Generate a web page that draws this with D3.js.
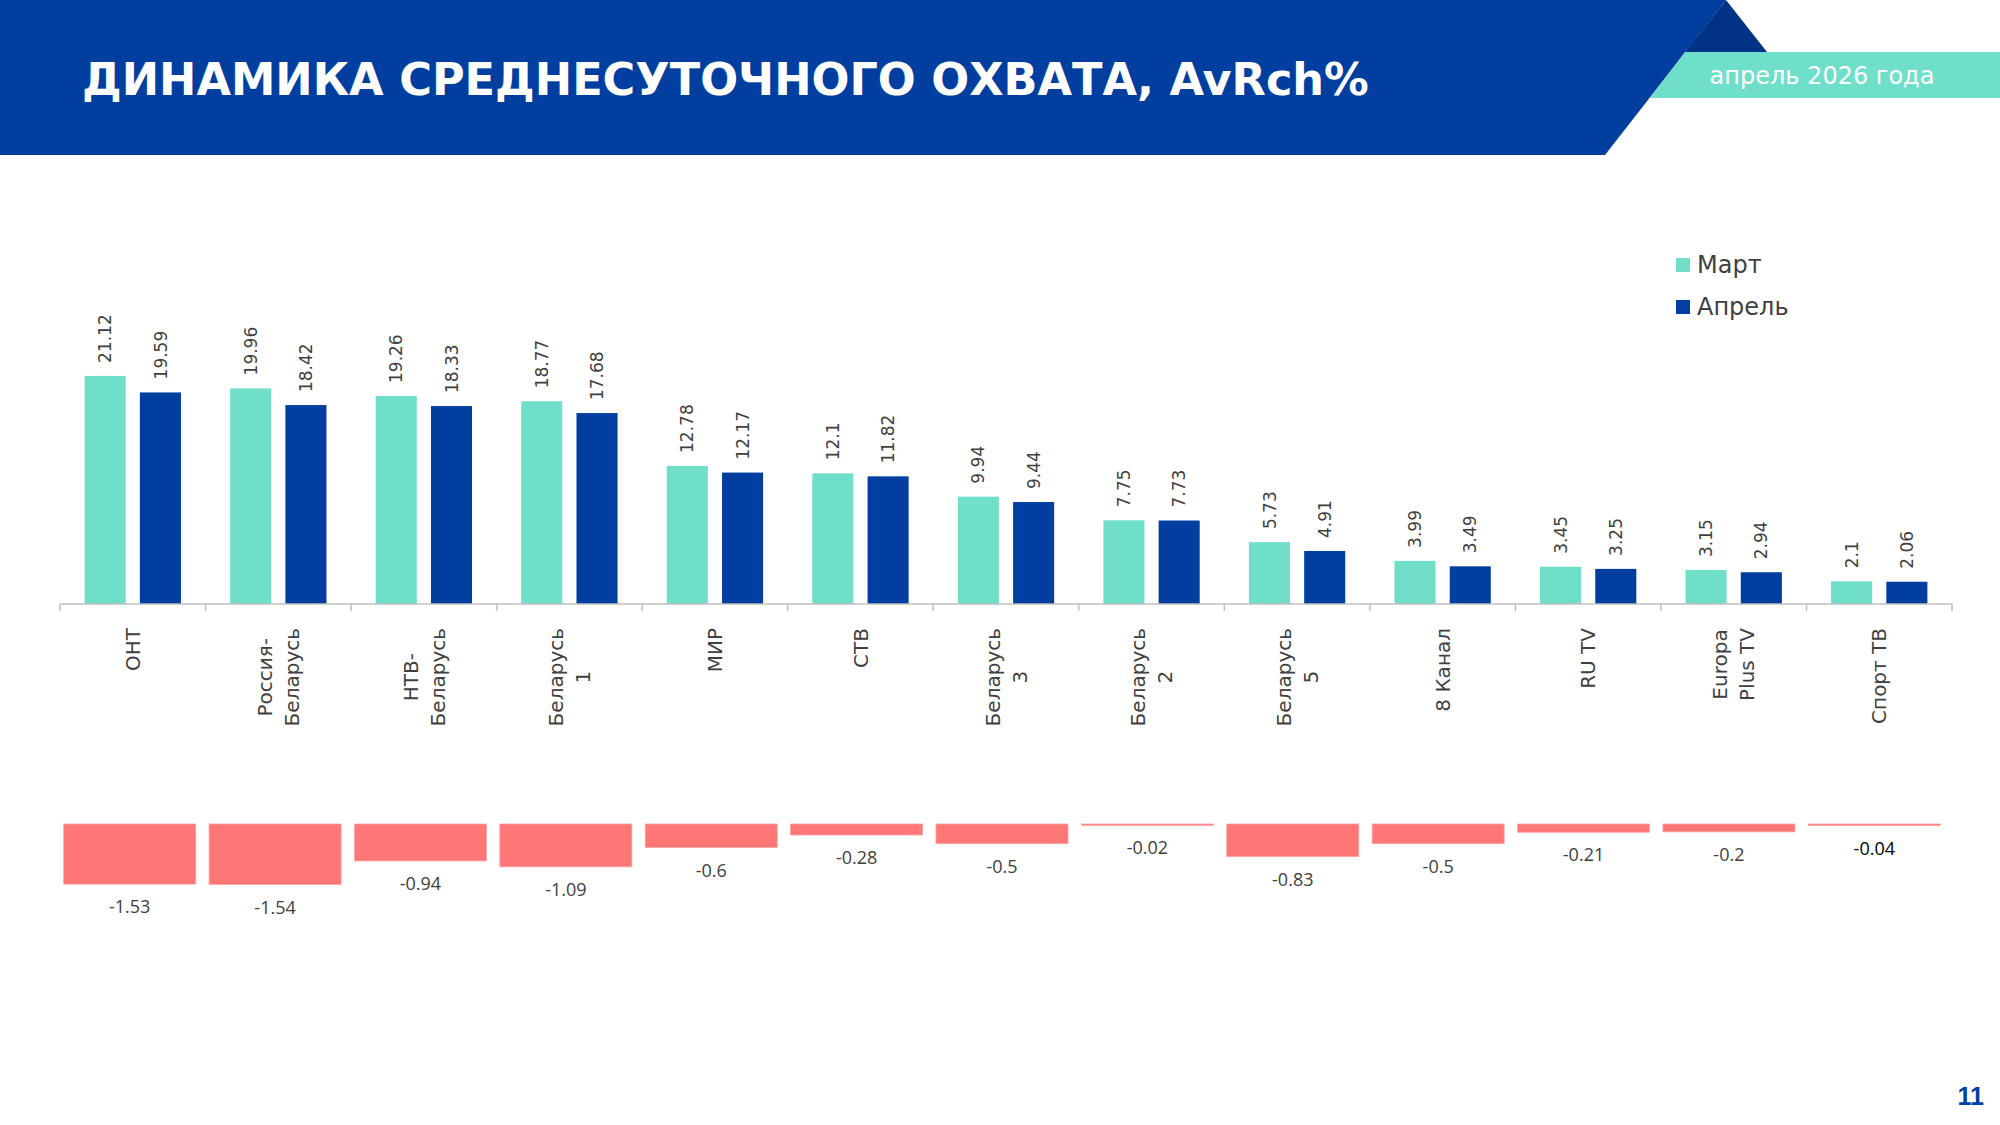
<!DOCTYPE html>
<html>
<head>
<meta charset="utf-8">
<script src="https://cdn.jsdelivr.net/npm/d3@7"></script>
<style>
  html, body { margin: 0; padding: 0; background: #fff; }
  svg { display: block; }
</style>
</head>
<body>
<div id="chart"></div>
<script>
// channel data, AvRch%
const categories = ["ОНТ", "Россия-Беларусь", "НТВ-Беларусь", "Беларусь 1", "МИР", "СТВ",
    "Беларусь 3", "Беларусь 2", "Беларусь 5", "8 Канал", "RU TV", "Europa Plus TV", "Спорт ТВ"];
const tickLabels = [["ОНТ"], ["Россия-", "Беларусь"], ["НТВ-", "Беларусь"], ["Беларусь", "1"], ["МИР"], ["СТВ"],
    ["Беларусь", "3"], ["Беларусь", "2"], ["Беларусь", "5"], ["8 Канал"], ["RU TV"], ["Europa", "Plus TV"], ["Спорт ТВ"]];
const series = ["Март", "Апрель"];
const march = [21.12, 19.96, 19.26, 18.77, 12.78, 12.1, 9.94, 7.75, 5.73, 3.99, 3.45, 3.15, 2.1];
const april = [19.59, 18.42, 18.33, 17.68, 12.17, 11.82, 9.44, 7.73, 4.91, 3.49, 3.25, 2.94, 2.06];
const diff = [-1.53, -1.54, -0.94, -1.09, -0.6, -0.28, -0.5, -0.02, -0.83, -0.5, -0.21, -0.2, -0.04];

const W = 2000, H = 1125;
const BLUE = "#003f9f", TEAL = "#70dfca", RED = "#ff7676", TXT = "#404040";
const FONT = "'DejaVu Sans', sans-serif";

const svg = d3.select("#chart").append("svg")
    .attr("width", W).attr("height", H);

// header
svg.append("polygon")
    .attr("points", "0,0 1726,0 1605,155 0,155")
    .style("fill", BLUE);
svg.append("polygon")
    .attr("points", "1726,0 1767,52 1685,52")
    .style("fill", "#003386");
svg.append("polygon")
    .attr("points", "1685,52 2000,52 2000,98 1650,98")
    .style("fill", TEAL);

const title = svg.append("text")
    .attr("x", 82).attr("y", 95)
    .style("font-family", FONT).style("font-weight", "bold")
    .style("font-size", "46px").style("fill", "#fff")
    .text("ДИНАМИКА СРЕДНЕСУТОЧНОГО ОХВАТА, AvRch%");
// fit title to the width in the picture
const tw = title.node().getComputedTextLength();
title.style("font-size", (46 * 1287 / tw) + "px");

svg.append("text")
    .attr("x", 1822).attr("y", 84)
    .style("text-anchor", "middle")
    .style("font-family", FONT).style("font-size", "24px").style("fill", "#fff")
    .text("апрель 2026 года");

// scales
const x0 = d3.scaleBand().domain(categories).range([60, 1952]);
const x1 = d3.scaleBand().domain(series).range([24.6, x0.bandwidth() - 24.6]).paddingInner(0.257);
const y = d3.scaleLinear().domain([0, 25]).range([604, 334]);
const color = d3.scaleOrdinal().domain(series).range([TEAL, BLUE]);

const rows = categories.map((c, i) => ({ cat: c, vals: [
    { key: "Март", value: march[i] },
    { key: "Апрель", value: april[i] }] }));

const groups = svg.selectAll(".grp")
    .data(rows)
    .enter()
    .append("g")
    .attr("class", "grp")
    .attr("transform", d => `translate(${x0(d.cat)},0)`);

groups.selectAll("rect")
    .data(d => d.vals)
    .enter()
    .append("rect")
    .attr("x", d => x1(d.key))
    .attr("y", d => y(d.value))
    .attr("width", x1.bandwidth())
    .attr("height", d => y(0) - y(d.value))
    .style("fill", d => color(d.key));

groups.selectAll(".val")
    .data(d => d.vals)
    .enter()
    .append("text")
    .attr("class", "val")
    .attr("transform", d => `translate(${x1(d.key) + x1.bandwidth() / 2},${y(d.value) - 13}) rotate(-90)`)
    .attr("dy", "0.36em")
    .style("font-family", FONT).style("font-size", "17px").style("fill", TXT)
    .text(d => d.value);

// axis
const axis = svg.append("g").attr("transform", "translate(0,604)");
axis.append("line")
    .attr("x1", 60).attr("x2", 1952)
    .style("stroke", "#bfbfbf").style("stroke-width", 1.5);
axis.selectAll(".tick")
    .data(categories.map(c => x0(c)).concat([1952]))
    .enter()
    .append("line")
    .attr("x1", d => d).attr("x2", d => d)
    .attr("y1", 0).attr("y2", 7)
    .style("stroke", "#bfbfbf").style("stroke-width", 1.5);

// category labels, rotated, block top at y=628
const lab = svg.selectAll(".cat")
    .data(categories)
    .enter()
    .append("g")
    .attr("class", "cat");
lab.each(function (c, i) {
    const g = d3.select(this);
    const lines = tickLabels[i];
    const t = g.append("text")
        .style("font-family", FONT).style("font-size", "20px").style("fill", TXT)
        .style("text-anchor", "middle");
    lines.forEach((l, j) => {
        t.append("tspan")
            .attr("x", 0)
            .attr("y", (j - (lines.length - 1) / 2) * 27)
            .attr("dy", "0.36em")
            .text(l);
    });
    let maxLen = 0;
    t.selectAll("tspan").each(function () {
        maxLen = Math.max(maxLen, this.getComputedTextLength());
    });
    g.attr("transform", `translate(${x0(c) + x0.bandwidth() / 2},${628 + maxLen / 2}) rotate(-90)`);
});

// legend
const legend = svg.selectAll(".leg")
    .data(series)
    .enter()
    .append("g")
    .attr("class", "leg")
    .attr("transform", (d, i) => `translate(1676,${258 + i * 42})`);
legend.append("rect")
    .attr("width", 14).attr("height", 14)
    .style("fill", d => color(d));
legend.append("text")
    .attr("x", 21).attr("y", 15)
    .style("font-family", FONT).style("font-size", "24px").style("fill", TXT)
    .text(d => d);

// change bars
const xd = d3.scaleBand().domain(categories).range([57, 1947]).paddingInner(0.092).paddingOuter(0.046);
const yd = d3.scaleLinear().domain([-2, 0]).range([902.6, 824]);

svg.selectAll(".diff")
    .data(diff)
    .enter()
    .append("rect")
    .attr("class", "diff")
    .attr("x", (d, i) => xd(categories[i]))
    .attr("y", yd(0))
    .attr("width", xd.bandwidth())
    .attr("height", d => Math.max(1.5, yd(d) - yd(0)))
    .style("fill", RED)
    .style("stroke", "#ffa3a3").style("stroke-width", 0.8);

svg.selectAll(".dlab")
    .data(diff)
    .enter()
    .append("text")
    .attr("class", "dlab")
    .attr("x", (d, i) => xd(categories[i]) + xd.bandwidth() / 2)
    .attr("y", d => Math.max(yd(d), yd(0) + 1) + 29)
    .style("text-anchor", "middle")
    .style("font-family", "'Open Sans', sans-serif").style("font-size", "18px")
    .style("fill", (d, i) => i === diff.length - 1 ? "#000" : TXT)
    .text(d => d);

// page number
svg.append("text")
    .attr("x", 1984).attr("y", 1105)
    .style("text-anchor", "end")
    .style("font-family", "'Liberation Sans Narrow', 'Liberation Sans', sans-serif").style("font-weight", "bold")
    .style("font-size", "25px").style("fill", BLUE)
    .text("11");
</script>
</body>
</html>
